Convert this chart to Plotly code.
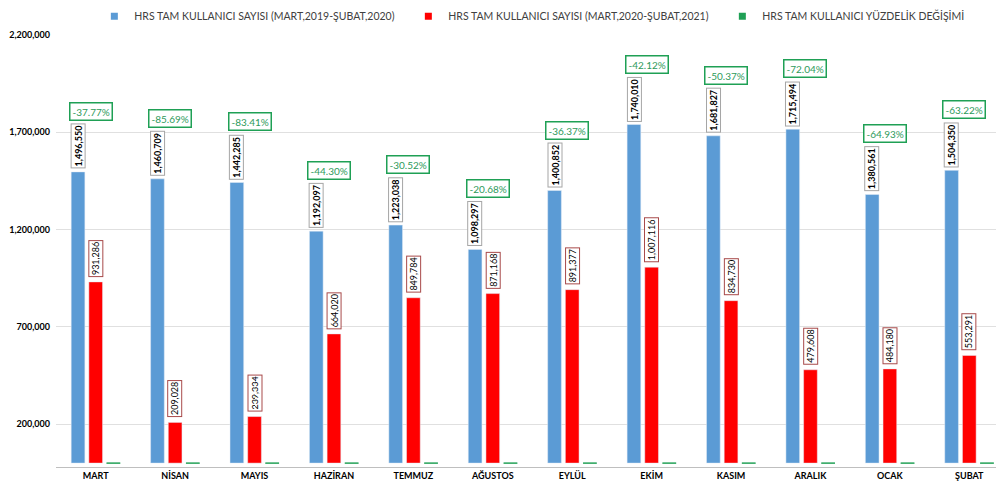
import plotly.graph_objects as go

months = ["MART", "NİSAN", "MAYIS", "HAZİRAN", "TEMMUZ", "AĞUSTOS", "EYLÜL", "EKİM", "KASIM", "ARALIK", "OCAK", "ŞUBAT"]
users_2019 = [1496550, 1460709, 1442285, 1192097, 1223038, 1098297, 1400852, 1740010, 1681827, 1715494, 1380561, 1504350]
users_2020 = [931286, 209028, 239334, 664020, 849784, 871168, 891377, 1007116, 834730, 479608, 484180, 553291]
pct_change = [-37.77, -85.69, -83.41, -44.30, -30.52, -20.68, -36.37, -42.12, -50.37, -72.04, -64.93, -63.22]
y_ticks = [200000, 700000, 1200000, 1700000, 2200000]

names = ["HRS TAM KULLANICI SAYISI (MART,2019-ŞUBAT,2020)",
         "HRS TAM KULLANICI SAYISI (MART,2020-ŞUBAT,2021)",
         "HRS TAM KULLANICI YÜZDELİK DEĞİŞİMİ"]
BLUE = "#5b9bd5"
RED = "#ff0000"
GREEN = "#1fa055"
FONT = "Lato"

fig = go.Figure()
fig.add_trace(go.Bar(x=months, y=users_2019, name=names[0], marker_color=BLUE, showlegend=False))
fig.add_trace(go.Bar(x=months, y=users_2020, name=names[1], marker_color=RED, showlegend=False))
fig.add_trace(go.Bar(x=months, y=[p / 100 for p in pct_change], name=names[2], showlegend=False,
                     marker=dict(color=GREEN, line=dict(color=GREEN, width=1))))
# legend entries with small square keys
for nm, col in zip(names, [BLUE, RED, GREEN]):
    fig.add_trace(go.Scatter(x=[None], y=[None], mode="markers", name=nm,
                             marker=dict(symbol="square", size=7, color=col)))

slot = 17.7
ann = []
for m, b, r, p in zip(months, users_2019, users_2020, pct_change):
    ann.append(dict(x=m, y=b, xref="x", yref="y", xshift=-slot, yshift=3,
                    text=f"<b>{b:,}</b>", textangle=-90, showarrow=False,
                    xanchor="center", yanchor="bottom",
                    font=dict(family=FONT, size=9, color="#000"),
                    bgcolor="white", bordercolor="#a6a6a6", borderwidth=1, borderpad=1))
    ann.append(dict(x=m, y=r, xref="x", yref="y", xshift=0, yshift=5,
                    text=f"{r:,}", textangle=-90, showarrow=False,
                    xanchor="center", yanchor="bottom",
                    font=dict(family=FONT, size=9, color="#000"),
                    bgcolor="white", bordercolor="#a84a4a", borderwidth=1, borderpad=1))
    ann.append(dict(x=m, y=b, xref="x", yref="y", xshift=-5, yshift=51,
                    text=f"{p:.2f}%", showarrow=False,
                    xanchor="center", yanchor="bottom",
                    font=dict(family=FONT, size=10, color="#2e9a5b"),
                    bgcolor="white", bordercolor=GREEN, borderwidth=1.5, borderpad=2))

fig.update_layout(
    width=1004, height=488,
    margin=dict(l=48, r=3, t=27, b=29, autoexpand=False),
    paper_bgcolor="white", plot_bgcolor="white",
    barmode="group", bargap=0.332, bargroupgap=0.226,
    font=dict(family=FONT, size=9, color="#000"),
    legend=dict(orientation="h", xref="container", x=0.086, xanchor="left",
                yref="container", y=0.983, yanchor="middle",
                font=dict(family=FONT, size=10.5, color="#404040"),
                entrywidth=269, itemwidth=30, traceorder="normal"),
    annotations=ann,
)
fig.update_xaxes(range=[-0.5, 11.5], showline=True, linecolor="#bfbfbf", linewidth=1,
                 ticks="", automargin=False,
                 tickfont=dict(family=FONT, size=9, color="#000", weight="bold"))
fig.update_yaxes(range=[-20000, 2200000], tickvals=y_ticks, automargin=False,
                 ticktext=[f"{v:,}" for v in y_ticks],
                 showgrid=True, gridcolor="#e0e0e0", zeroline=False,
                 tickfont=dict(family=FONT, size=9, color="#000", weight="bold"),
                 ticklabelstandoff=5)

fig.write_html("out.html")
